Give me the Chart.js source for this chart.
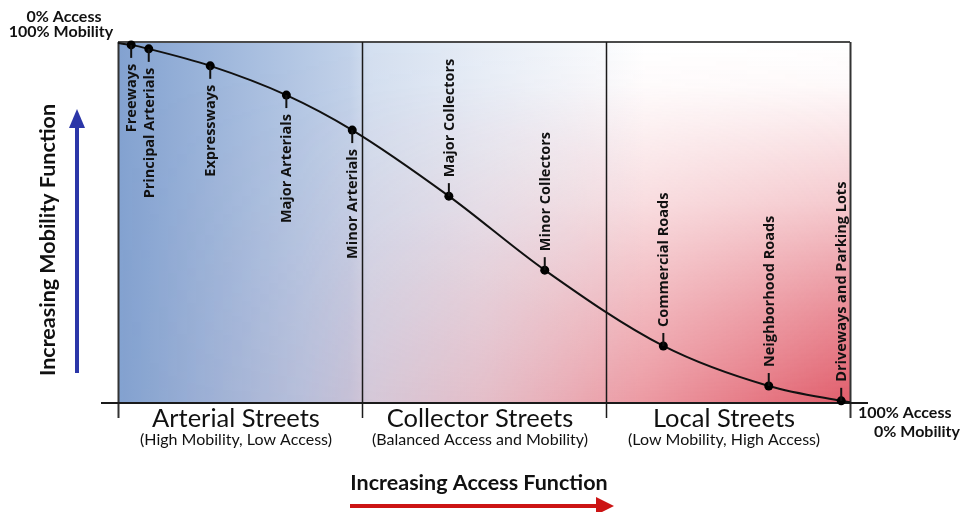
<!DOCTYPE html>
<html>
<head>
<meta charset="utf-8">
<script src="https://cdn.jsdelivr.net/npm/chart.js@4.4.1/dist/chart.umd.min.js"></script>
<style>
  html, body { margin: 0; padding: 0; background: #fff; }
</style>
</head>
<body>
<canvas id="roadChart" width="970" height="512"></canvas>
<script>
// road classes along the curve ("" = curve end, no marker)
const roadTypes = ["", "Freeways", "Principal Arterials", "Expressways", "Major Arterials", "Minor Arterials",
  "Major Collectors", "Minor Collectors", "Commercial Roads", "Neighborhood Roads", "Driveways and Parking Lots", ""];
const accessValues = [0, 1.8, 4.2, 12.6, 23.0, 32.0, 45.2, 58.3, 74.5, 88.9, 98.8, 100];
const mobilityValues = [99.7, 99.2, 98.1, 93.4, 85.3, 75.6, 57.3, 36.8, 15.8, 4.7, 0.6, 0.2];

const zoneTicks = [0, 33.33, 66.67, 100];
const zoneNames = ["Arterial Streets", "Collector Streets", "Local Streets"];
const zoneNotes = ["(High Mobility, Low Access)", "(Balanced Access and Mobility)", "(Low Mobility, High Access)"];

const labelFont = "700 14.5px 'Open Sans'";

function redWash(w, h) {
  // vertical red fade, masked by a left-to-right strength
  const off = document.createElement("canvas");
  off.width = w;
  off.height = h;
  const c = off.getContext("2d");
  let g = c.createLinearGradient(0, 0, 0, h);
  g.addColorStop(0, "rgba(222,80,95,0)");
  g.addColorStop(0.12, "rgba(222,80,95,0.04)");
  g.addColorStop(0.45, "rgba(222,80,95,0.34)");
  g.addColorStop(0.75, "rgba(222,80,95,0.72)");
  g.addColorStop(1, "rgba(222,80,95,1)");
  c.fillStyle = g;
  c.fillRect(0, 0, w, h);
  c.globalCompositeOperation = "destination-in";
  g = c.createLinearGradient(0, 0, w, 0);
  g.addColorStop(0, "rgba(0,0,0,0)");
  g.addColorStop(0.25, "rgba(0,0,0,0.08)");
  g.addColorStop(0.5, "rgba(0,0,0,0.3)");
  g.addColorStop(0.67, "rgba(0,0,0,0.52)");
  g.addColorStop(1, "rgba(0,0,0,0.92)");
  c.fillStyle = g;
  c.fillRect(0, 0, w, h);
  return off;
}

const diagramPlugin = {
  id: "diagram",
  beforeDraw(chart) {
    const { ctx, chartArea: a } = chart;
    const w = a.right - a.left, h = a.bottom - a.top;
    ctx.save();
    ctx.fillStyle = "#fff";
    ctx.fillRect(a.left, a.top, w, h);
    // blue wash from the left
    const g = ctx.createLinearGradient(a.left, 0, a.right, 0);
    g.addColorStop(0, "rgba(110,146,200,0.86)");
    g.addColorStop(0.317, "rgba(110,148,204,0.42)");
    g.addColorStop(0.344, "rgba(110,150,205,0.30)");
    g.addColorStop(0.495, "rgba(110,150,205,0.17)");
    g.addColorStop(0.66, "rgba(110,150,205,0.05)");
    g.addColorStop(0.72, "rgba(110,150,205,0)");
    g.addColorStop(1, "rgba(110,150,205,0)");
    ctx.fillStyle = g;
    ctx.fillRect(a.left, a.top, w, h);
    ctx.drawImage(redWash(Math.round(w), Math.round(h)), a.left, a.top);
    ctx.restore();
  },
  beforeDatasetsDraw(chart) {
    const { ctx, chartArea: a, scales } = chart;
    ctx.save();
    ctx.strokeStyle = "#4a4a4a";
    ctx.lineWidth = 2;
    ctx.beginPath();
    ctx.moveTo(a.left, a.top);
    ctx.lineTo(a.right, a.top);
    ctx.stroke();
    zoneTicks.forEach((t, i) => {
      const x = Math.round(scales.x.getPixelForValue(t)) + 0.5;
      ctx.strokeStyle = (i === 0 || i === zoneTicks.length - 1) ? "#333" : "#1a1a1a";
      ctx.lineWidth = (i === 0 || i === zoneTicks.length - 1) ? 2 : 1.5;
      ctx.beginPath();
      ctx.moveTo(x, a.top);
      ctx.lineTo(x, a.bottom + 15);
      ctx.stroke();
    });
    ctx.strokeStyle = "#1a1a1a";
    ctx.lineWidth = 2;
    ctx.beginPath();
    ctx.moveTo(a.left - 17, a.bottom);
    ctx.lineTo(a.right + 18, a.bottom);
    ctx.stroke();
    ctx.restore();
  },
  afterDatasetsDraw(chart) {
    const { ctx } = chart;
    const pts = chart.getDatasetMeta(0).data;
    ctx.save();
    ctx.font = labelFont;
    ctx.fillStyle = "#111";
    ctx.strokeStyle = "#111";
    ctx.lineWidth = 2;
    ctx.textBaseline = "middle";
    roadTypes.forEach((name, i) => {
      if (!name) return;
      const p = pts[i];
      const below = accessValues[i] < zoneTicks[1];
      const dir = below ? 1 : -1;
      ctx.beginPath();
      ctx.moveTo(p.x, p.y);
      ctx.lineTo(p.x, p.y + dir * 13);
      ctx.stroke();
      ctx.save();
      ctx.translate(p.x, p.y + dir * 19);
      ctx.rotate(-Math.PI / 2);
      ctx.textAlign = below ? "right" : "left";
      ctx.fillText(name, 0, 1);
      ctx.restore();
    });
    ctx.restore();
  },
  afterDraw(chart) {
    const { ctx, chartArea: a, scales } = chart;
    ctx.save();
    ctx.fillStyle = "#111";
    ctx.textAlign = "center";
    ctx.textBaseline = "alphabetic";
    zoneNames.forEach((name, i) => {
      const cx = (scales.x.getPixelForValue(zoneTicks[i]) + scales.x.getPixelForValue(zoneTicks[i + 1])) / 2 - 4;
      ctx.font = "400 25.5px Lato";
      ctx.fillText(name, cx, a.bottom + 24);
      ctx.font = "400 16px Lato";
      ctx.fillText(zoneNotes[i], cx, a.bottom + 42);
    });

    // corner captions
    ctx.font = "700 16px Lato";
    ctx.fillText("0% Access", 64, 22);
    ctx.fillText("100% Mobility", 61, 37);
    ctx.textAlign = "left";
    ctx.fillText("100% Access", a.right + 8, a.bottom + 15);
    ctx.fillText("0% Mobility", a.right + 24, a.bottom + 34);

    // axis titles
    ctx.textAlign = "center";
    ctx.font = "700 21.5px Lato";
    ctx.fillText("Increasing Access Function", 479, 490);
    ctx.save();
    ctx.translate(55, 240);
    ctx.rotate(-Math.PI / 2);
    ctx.fillText("Increasing Mobility Function", 0, 0);
    ctx.restore();

    // red arrow (access)
    ctx.fillStyle = "#cc1414";
    ctx.fillRect(350, 504, 250, 4);
    ctx.beginPath();
    ctx.moveTo(596, 497);
    ctx.lineTo(614, 506);
    ctx.lineTo(596, 515);
    ctx.closePath();
    ctx.fill();

    // blue arrow (mobility)
    ctx.fillStyle = "#2b36a8";
    ctx.fillRect(75, 124, 4, 249);
    ctx.beginPath();
    ctx.moveTo(69, 128);
    ctx.lineTo(77, 109);
    ctx.lineTo(85, 128);
    ctx.closePath();
    ctx.fill();
    ctx.restore();
  }
};

new Chart(document.getElementById("roadChart"), {
  type: "line",
  data: {
    datasets: [{
      data: accessValues.map((x, i) => ({ x: x, y: mobilityValues[i] })),
      borderColor: "#111",
      borderWidth: 2,
      pointRadius: (c) => (roadTypes[c.dataIndex] ? 4.5 : 0),
      pointBackgroundColor: "#000",
      pointBorderColor: "#000",
      pointBorderWidth: 0,
      cubicInterpolationMode: "monotone",
      clip: false
    }]
  },
  options: {
    responsive: false,
    animation: false,
    layout: { padding: { left: 118, right: 120, top: 42, bottom: 109 } },
    scales: {
      x: { type: "linear", min: 0, max: 100, display: false },
      y: { type: "linear", min: 0, max: 100, display: false }
    },
    plugins: { legend: { display: false }, tooltip: { enabled: false } }
  },
  plugins: [diagramPlugin]
});
</script>
</body>
</html>
